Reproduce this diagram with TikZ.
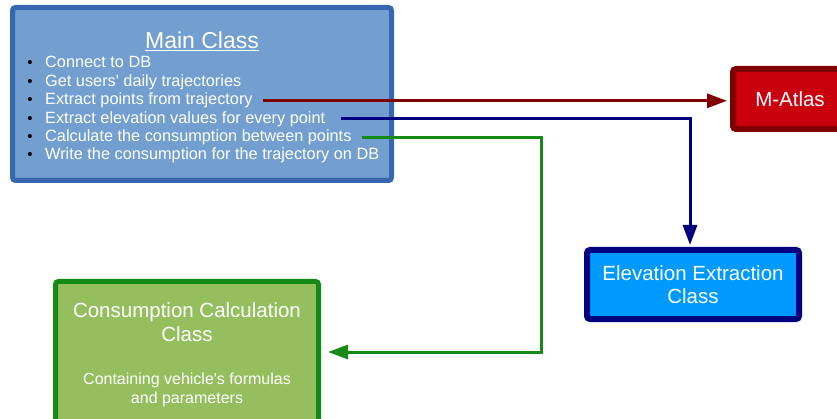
\documentclass[tikz,border=0pt]{standalone}
\usepackage{fontspec}
\setmainfont{Liberation Sans}[Ligatures=TeXOff]
\usetikzlibrary{positioning,arrows.meta}
\definecolor{mainfill}{HTML}{729FCF}
\definecolor{mainline}{HTML}{3767AE}
\definecolor{atlasfill}{HTML}{C9000E}
\definecolor{atlasline}{HTML}{800000}
\definecolor{elevfill}{HTML}{0099FF}
\definecolor{elevline}{HTML}{000080}
\definecolor{consfill}{HTML}{95BF5E}
\definecolor{consline}{HTML}{158A15}
\tikzset{
	classbox/.style = {draw, line width=5pt, rounded corners=3pt, text=white,
	 align=center, inner sep=0pt, font=\fontsize{20.5}{23.5}\selectfont}}
\tikzset{
	listitem/.style = {anchor=base west, inner sep=0pt, text=white,
	 font=\fontsize{16.3}{18}\selectfont}}
\tikzset{
	link/.style = {line width=3pt, -{Triangle[length=20pt, width=14pt]}}}

\begin{document}
\begin{tikzpicture}[x=1pt, y=-1pt, node distance=1]
\useasboundingbox (0,0) rectangle (837,419);

% NODES
% main class
\node (main) [classbox, draw=mainline, fill=mainfill, minimum width=379pt, minimum height=173pt] at (202,94) {};
\node (title) [text=white, font=\fontsize{23}{26}\selectfont] at (202,41) {\underline{Main Class}};
\foreach \txt [count=\i] in {Connect to DB, Get users' daily trajectories,
	Extract points from trajectory, Extract elevation values for every point,
	Calculate the consumption between points,
	Write the consumption for the trajectory on DB} {
	\node (item\i) [listitem] at (45, 68+18.4*\i-18.4) {\txt};
	\node (dot\i) [anchor=base, inner sep=0pt, font=\fontsize{15}{18}\selectfont] at (30, 68+18.4*\i-18.4) {\textbullet};
}
% other classes
\node (atlas) [classbox, draw=atlasline, fill=atlasfill, line width=6pt, minimum width=114pt, minimum height=60pt] at (790,99) {M-Atlas};
\node (elev) [classbox, draw=elevline, fill=elevfill, line width=6pt, minimum width=212pt, minimum height=69pt] at (693,284.5) {Elevation Extraction\\Class};
\node (cons) [classbox, draw=consline, fill=consfill, minimum width=263pt, minimum height=141pt] at (187,352) {};
\node (conshead) [text=white, align=center, font=\fontsize{20.5}{24}\selectfont] at (187,322.5) {Consumption Calculation\\Class};
\node (consnote) [text=white, align=center, font=\fontsize{16}{19}\selectfont] at (187,390) {Containing vehicle's formulas\\and parameters};
\coordinate (redstart) at ([xshift=10pt, yshift=4pt]item3.base east);
\coordinate (bluestart) at ([xshift=16pt, yshift=5pt]item4.base east);
\coordinate (greenstart) at ([xshift=10pt, yshift=4.5pt]item5.base east);
\coordinate (greenturn) at (541,352);

%CONNECTIONS
\draw [link, draw=atlasline, shorten >=3pt] (redstart) -- (redstart -| atlas.west);
\draw [link, draw=elevline, shorten >=2pt] (bluestart) -| ([xshift=-3pt]elev.north);
\draw [link, draw=consline, shorten >=7pt] (greenstart) -| (greenturn) -- (cons.east);

\end{tikzpicture}
\end{document}
